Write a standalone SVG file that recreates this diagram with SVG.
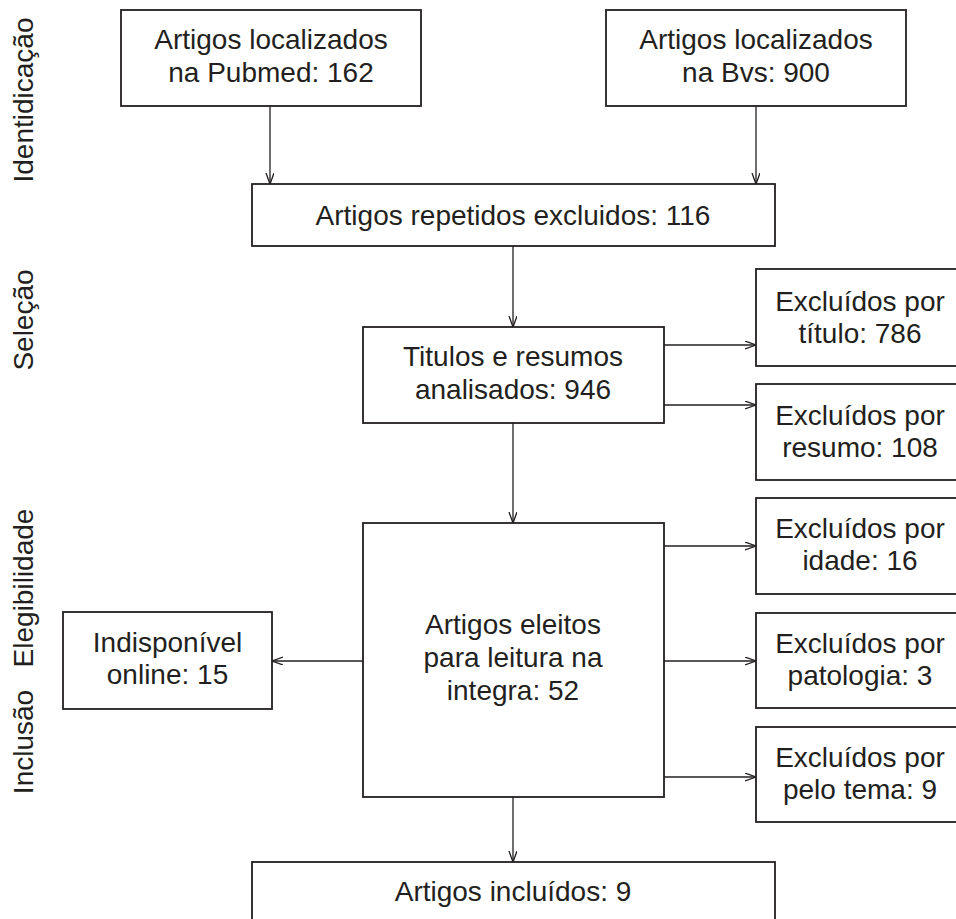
<svg xmlns="http://www.w3.org/2000/svg" width="956" height="919" viewBox="0 0 956 919">
<defs>
<style>
.box{fill:#fff;stroke:#231f20;stroke-width:1.8}
.t{font-family:"Liberation Sans",Arial,Helvetica,sans-serif;font-size:28px;fill:#231f20;text-anchor:middle}
.c{stroke:#231f20;stroke-width:1.3;fill:none;marker-end:url(#ah)}
</style>
<marker id="ah" markerUnits="userSpaceOnUse" markerWidth="14" markerHeight="10" refX="11" refY="4" orient="auto">
<path d="M0,0 L11,4 L0,8" fill="none" stroke="#231f20" stroke-width="1.3"/>
</marker>
</defs>
<rect width="956" height="919" fill="#fff"/>
<g id="labels">
<text class="t" transform="translate(33,100) rotate(-90)">Identidicação</text>
<text class="t" transform="translate(33,320) rotate(-90)">Seleção</text>
<text class="t" transform="translate(33,588) rotate(-90)">Elegibilidade</text>
<text class="t" transform="translate(33,742) rotate(-90)">Inclusão</text>
</g>
<g id="connectors">
<line class="c" x1="270" y1="106" x2="270" y2="184"/>
<line class="c" x1="756" y1="106" x2="756" y2="184"/>
<line class="c" x1="513" y1="246" x2="513" y2="327"/>
<line class="c" x1="664" y1="345" x2="756" y2="345"/>
<line class="c" x1="664" y1="405" x2="756" y2="405"/>
<line class="c" x1="513" y1="423" x2="513" y2="523"/>
<line class="c" x1="664" y1="546" x2="756" y2="546"/>
<line class="c" x1="664" y1="661" x2="756" y2="661"/>
<line class="c" x1="664" y1="777" x2="756" y2="777"/>
<line class="c" x1="363" y1="661" x2="272" y2="661"/>
<line class="c" x1="513" y1="797" x2="513" y2="862"/>
</g>
<g id="pubmed">
<rect class="box" x="121" y="10" width="300" height="96"/>
<text class="t" x="271" y="49">Artigos localizados</text>
<text class="t" x="271" y="82">na Pubmed: 162</text>
</g>
<g id="bvs">
<rect class="box" x="606" y="10" width="300" height="96"/>
<text class="t" x="756" y="49">Artigos localizados</text>
<text class="t" x="756" y="82">na Bvs: 900</text>
</g>
<g id="repetidos">
<rect class="box" x="252" y="184" width="523" height="62"/>
<text class="t" x="513" y="225">Artigos repetidos excluidos: 116</text>
</g>
<g id="titulos">
<rect class="box" x="363" y="327" width="301" height="96"/>
<text class="t" x="513" y="366">Titulos e resumos</text>
<text class="t" x="513" y="399">analisados: 946</text>
</g>
<g id="excl-titulo">
<rect class="box" x="756" y="269" width="208" height="97"/>
<text class="t" x="860" y="311">Excluídos por</text>
<text class="t" x="860" y="343">título: 786</text>
</g>
<g id="excl-resumo">
<rect class="box" x="756" y="384" width="208" height="96"/>
<text class="t" x="860" y="425">Excluídos por</text>
<text class="t" x="860" y="457">resumo: 108</text>
</g>
<g id="eleitos">
<rect class="box" x="363" y="523" width="301" height="274"/>
<text class="t" x="513" y="634">Artigos eleitos</text>
<text class="t" x="513" y="667">para leitura na</text>
<text class="t" x="513" y="700">integra: 52</text>
</g>
<g id="excl-idade">
<rect class="box" x="756" y="498" width="208" height="96"/>
<text class="t" x="860" y="538">Excluídos por</text>
<text class="t" x="860" y="570">idade: 16</text>
</g>
<g id="excl-patologia">
<rect class="box" x="756" y="613" width="208" height="95"/>
<text class="t" x="860" y="653">Excluídos por</text>
<text class="t" x="860" y="685">patologia: 3</text>
</g>
<g id="excl-tema">
<rect class="box" x="756" y="727" width="208" height="95"/>
<text class="t" x="860" y="767">Excluídos por</text>
<text class="t" x="860" y="799">pelo tema: 9</text>
</g>
<g id="indisponivel">
<rect class="box" x="63" y="612" width="209" height="97"/>
<text class="t" x="167.5" y="652">Indisponível</text>
<text class="t" x="167.5" y="684">online: 15</text>
</g>
<g id="incluidos">
<rect class="box" x="252" y="862" width="523" height="62"/>
<text class="t" x="513" y="901">Artigos incluídos: 9</text>
</g>
</svg>
